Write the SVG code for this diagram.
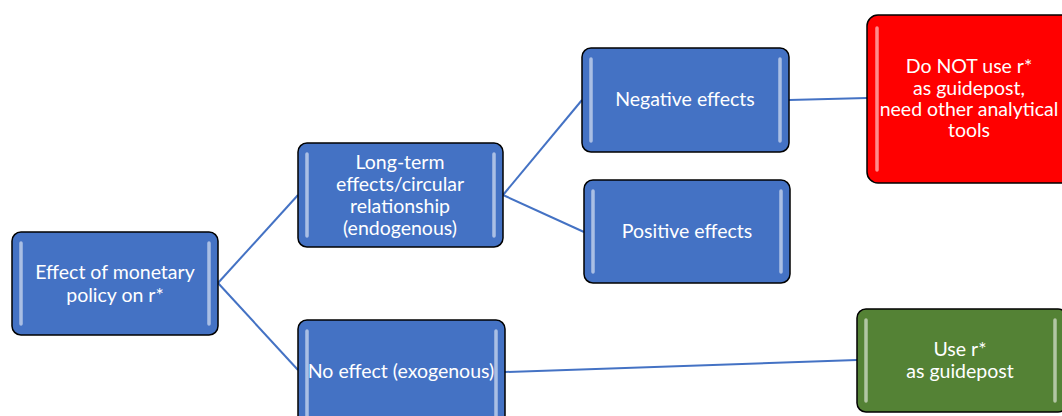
<svg xmlns="http://www.w3.org/2000/svg" width="1062" height="416" viewBox="0 0 1062 416">
<defs>
<style>
.box{stroke:#000;stroke-width:1.5}
.blue{fill:#4472C4}
.red{fill:#FF0000}
.green{fill:#548235}
.bar{stroke:#FFFFFF;stroke-opacity:0.55;stroke-width:3.5;stroke-linecap:round}
.t{font-family:Lato,"Open Sans","Liberation Sans",sans-serif;font-size:19.5px;fill:#FFFFFF;text-anchor:middle}
.c{stroke:#4472C4;stroke-width:2;fill:none}
</style>
</defs>
<rect width="1062" height="416" fill="#FFFFFF"/>
<g id="connectors">
<line class="c" x1="218" y1="283" x2="298" y2="195"/>
<line class="c" x1="218" y1="283" x2="298" y2="370"/>
<line class="c" x1="503" y1="195" x2="582" y2="100"/>
<line class="c" x1="503" y1="195" x2="584" y2="232"/>
<line class="c" x1="789" y1="100" x2="867" y2="98"/>
<line class="c" x1="505" y1="372" x2="857" y2="360"/>
</g>
<g id="n1">
<rect class="box blue" x="12" y="232" width="206" height="103" rx="9"/>
<line class="bar" x1="21" y1="243" x2="21" y2="324"/>
<line class="bar" x1="209" y1="243" x2="209" y2="324"/>
<text class="t" x="115" y="279">Effect of monetary</text>
<text class="t" x="115" y="302">policy on r*</text>
</g>
<g id="n2">
<rect class="box blue" x="298" y="143" width="205" height="104" rx="9"/>
<line class="bar" x1="307" y1="154" x2="307" y2="236"/>
<line class="bar" x1="494" y1="154" x2="494" y2="236"/>
<text class="t" x="400" y="169">Long-term</text>
<text class="t" x="400" y="191">effects/circular</text>
<text class="t" x="400" y="213">relationship</text>
<text class="t" x="400" y="235">(endogenous)</text>
</g>
<g id="n3">
<rect class="box blue" x="582" y="48" width="207" height="104" rx="9"/>
<line class="bar" x1="591" y1="59" x2="591" y2="141"/>
<line class="bar" x1="780" y1="59" x2="780" y2="141"/>
<text class="t" x="685" y="106">Negative effects</text>
</g>
<g id="n4">
<rect class="box blue" x="584" y="180" width="206" height="103" rx="9"/>
<line class="bar" x1="593" y1="191" x2="593" y2="272"/>
<line class="bar" x1="781" y1="191" x2="781" y2="272"/>
<text class="t" x="687" y="238">Positive effects</text>
</g>
<g id="n5">
<rect class="box red" x="867" y="15" width="206" height="168" rx="11"/>
<line class="bar" x1="877" y1="28" x2="877" y2="170"/>
<text class="t" x="969" y="73">Do NOT use r*</text>
<text class="t" x="969" y="95">as guidepost,</text>
<text class="t" x="969" y="116">need other analytical</text>
<text class="t" x="969" y="137">tools</text>
</g>
<g id="n6">
<rect class="box blue" x="298" y="320" width="207" height="110" rx="9"/>
<line class="bar" x1="307" y1="331" x2="307" y2="416"/>
<line class="bar" x1="496" y1="331" x2="496" y2="416"/>
<text class="t" x="401" y="378">No effect (exogenous)</text>
</g>
<g id="n7">
<rect class="box green" x="857" y="309" width="210" height="103" rx="9"/>
<line class="bar" x1="866" y1="320" x2="866" y2="401"/>
<line class="bar" x1="1055" y1="320" x2="1055" y2="401"/>
<text class="t" x="960" y="356">Use r*</text>
<text class="t" x="960" y="378">as guidepost</text>
</g>
</svg>
